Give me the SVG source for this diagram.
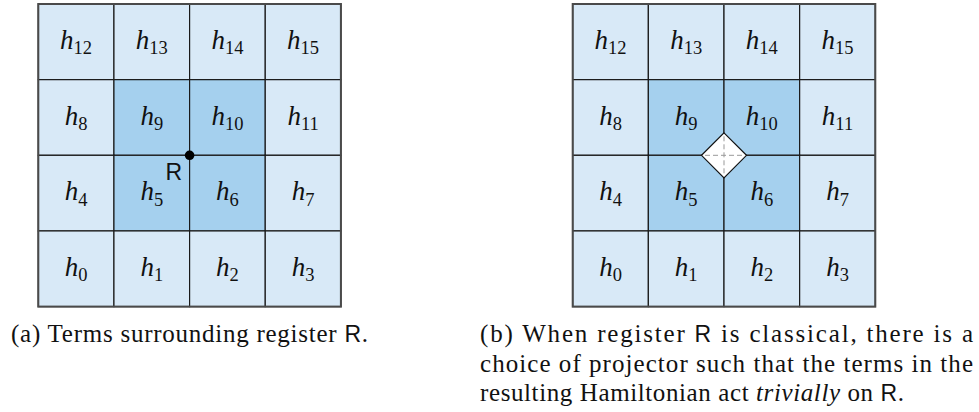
<svg xmlns="http://www.w3.org/2000/svg" width="979" height="412" viewBox="0 0 979 412">
<style>
.lt{fill:#D8E9F7;stroke:#1a1a1a;stroke-width:1.2}
.dk{fill:#A5D0EE;stroke:#1a1a1a;stroke-width:1.2}
.border{fill:none;stroke:#4a4a4a;stroke-width:2}
.h{font-family:"Liberation Serif",serif;font-size:27px;text-anchor:middle;fill:#111}
.h .i{font-style:italic}
.h .s{font-size:18.5px}
.cap{font-family:"Liberation Serif",serif;font-size:25px;fill:#111}
.sf{font-family:"Liberation Sans",sans-serif;font-size:23px}
.it{font-style:italic}
</style>
<g id="gridA">
<g id="a-h12"><rect class="lt" x="38.3" y="4" width="75.65" height="75.65"/><text class="h" x="76.1" y="48.8"><tspan class="i">h</tspan><tspan class="s" dy="5.5">12</tspan></text></g>
<g id="a-h13"><rect class="lt" x="113.95" y="4" width="75.65" height="75.65"/><text class="h" x="151.8" y="48.8"><tspan class="i">h</tspan><tspan class="s" dy="5.5">13</tspan></text></g>
<g id="a-h14"><rect class="lt" x="189.6" y="4" width="75.65" height="75.65"/><text class="h" x="227.4" y="48.8"><tspan class="i">h</tspan><tspan class="s" dy="5.5">14</tspan></text></g>
<g id="a-h15"><rect class="lt" x="265.25" y="4" width="75.65" height="75.65"/><text class="h" x="303.1" y="48.8"><tspan class="i">h</tspan><tspan class="s" dy="5.5">15</tspan></text></g>
<g id="a-h8"><rect class="lt" x="38.3" y="79.65" width="75.65" height="75.65"/><text class="h" x="76.1" y="124.5"><tspan class="i">h</tspan><tspan class="s" dy="5.5">8</tspan></text></g>
<g id="a-h9"><rect class="dk" x="113.95" y="79.65" width="75.65" height="75.65"/><text class="h" x="151.8" y="124.5"><tspan class="i">h</tspan><tspan class="s" dy="5.5">9</tspan></text></g>
<g id="a-h10"><rect class="dk" x="189.6" y="79.65" width="75.65" height="75.65"/><text class="h" x="227.4" y="124.5"><tspan class="i">h</tspan><tspan class="s" dy="5.5">10</tspan></text></g>
<g id="a-h11"><rect class="lt" x="265.25" y="79.65" width="75.65" height="75.65"/><text class="h" x="303.1" y="124.5"><tspan class="i">h</tspan><tspan class="s" dy="5.5">11</tspan></text></g>
<g id="a-h4"><rect class="lt" x="38.3" y="155.3" width="75.65" height="75.65"/><text class="h" x="76.1" y="200.1"><tspan class="i">h</tspan><tspan class="s" dy="5.5">4</tspan></text></g>
<g id="a-h5"><rect class="dk" x="113.95" y="155.3" width="75.65" height="75.65"/><text class="h" x="151.8" y="200.1"><tspan class="i">h</tspan><tspan class="s" dy="5.5">5</tspan></text></g>
<g id="a-h6"><rect class="dk" x="189.6" y="155.3" width="75.65" height="75.65"/><text class="h" x="227.4" y="200.1"><tspan class="i">h</tspan><tspan class="s" dy="5.5">6</tspan></text></g>
<g id="a-h7"><rect class="lt" x="265.25" y="155.3" width="75.65" height="75.65"/><text class="h" x="303.1" y="200.1"><tspan class="i">h</tspan><tspan class="s" dy="5.5">7</tspan></text></g>
<g id="a-h0"><rect class="lt" x="38.3" y="230.95" width="75.65" height="75.65"/><text class="h" x="76.1" y="275.8"><tspan class="i">h</tspan><tspan class="s" dy="5.5">0</tspan></text></g>
<g id="a-h1"><rect class="lt" x="113.95" y="230.95" width="75.65" height="75.65"/><text class="h" x="151.8" y="275.8"><tspan class="i">h</tspan><tspan class="s" dy="5.5">1</tspan></text></g>
<g id="a-h2"><rect class="lt" x="189.6" y="230.95" width="75.65" height="75.65"/><text class="h" x="227.4" y="275.8"><tspan class="i">h</tspan><tspan class="s" dy="5.5">2</tspan></text></g>
<g id="a-h3"><rect class="lt" x="265.25" y="230.95" width="75.65" height="75.65"/><text class="h" x="303.1" y="275.8"><tspan class="i">h</tspan><tspan class="s" dy="5.5">3</tspan></text></g>
<rect class="border" x="38.3" y="4" width="302.6" height="302.6"/>
</g>
<g id="registerA">
<circle cx="189.6" cy="155.3" r="4.8" fill="#000"/>
<text class="sf" x="182" y="180" text-anchor="end" fill="#111">R</text>
</g>
<g id="gridB">
<g id="b-h12"><rect class="lt" x="572.7" y="4" width="75.65" height="75.65"/><text class="h" x="610.5" y="48.8"><tspan class="i">h</tspan><tspan class="s" dy="5.5">12</tspan></text></g>
<g id="b-h13"><rect class="lt" x="648.35" y="4" width="75.65" height="75.65"/><text class="h" x="686.2" y="48.8"><tspan class="i">h</tspan><tspan class="s" dy="5.5">13</tspan></text></g>
<g id="b-h14"><rect class="lt" x="724" y="4" width="75.65" height="75.65"/><text class="h" x="761.8" y="48.8"><tspan class="i">h</tspan><tspan class="s" dy="5.5">14</tspan></text></g>
<g id="b-h15"><rect class="lt" x="799.65" y="4" width="75.65" height="75.65"/><text class="h" x="837.5" y="48.8"><tspan class="i">h</tspan><tspan class="s" dy="5.5">15</tspan></text></g>
<g id="b-h8"><rect class="lt" x="572.7" y="79.65" width="75.65" height="75.65"/><text class="h" x="610.5" y="124.5"><tspan class="i">h</tspan><tspan class="s" dy="5.5">8</tspan></text></g>
<g id="b-h9"><rect class="dk" x="648.35" y="79.65" width="75.65" height="75.65"/><text class="h" x="686.2" y="124.5"><tspan class="i">h</tspan><tspan class="s" dy="5.5">9</tspan></text></g>
<g id="b-h10"><rect class="dk" x="724" y="79.65" width="75.65" height="75.65"/><text class="h" x="761.8" y="124.5"><tspan class="i">h</tspan><tspan class="s" dy="5.5">10</tspan></text></g>
<g id="b-h11"><rect class="lt" x="799.65" y="79.65" width="75.65" height="75.65"/><text class="h" x="837.5" y="124.5"><tspan class="i">h</tspan><tspan class="s" dy="5.5">11</tspan></text></g>
<g id="b-h4"><rect class="lt" x="572.7" y="155.3" width="75.65" height="75.65"/><text class="h" x="610.5" y="200.1"><tspan class="i">h</tspan><tspan class="s" dy="5.5">4</tspan></text></g>
<g id="b-h5"><rect class="dk" x="648.35" y="155.3" width="75.65" height="75.65"/><text class="h" x="686.2" y="200.1"><tspan class="i">h</tspan><tspan class="s" dy="5.5">5</tspan></text></g>
<g id="b-h6"><rect class="dk" x="724" y="155.3" width="75.65" height="75.65"/><text class="h" x="761.8" y="200.1"><tspan class="i">h</tspan><tspan class="s" dy="5.5">6</tspan></text></g>
<g id="b-h7"><rect class="lt" x="799.65" y="155.3" width="75.65" height="75.65"/><text class="h" x="837.5" y="200.1"><tspan class="i">h</tspan><tspan class="s" dy="5.5">7</tspan></text></g>
<g id="b-h0"><rect class="lt" x="572.7" y="230.95" width="75.65" height="75.65"/><text class="h" x="610.5" y="275.8"><tspan class="i">h</tspan><tspan class="s" dy="5.5">0</tspan></text></g>
<g id="b-h1"><rect class="lt" x="648.35" y="230.95" width="75.65" height="75.65"/><text class="h" x="686.2" y="275.8"><tspan class="i">h</tspan><tspan class="s" dy="5.5">1</tspan></text></g>
<g id="b-h2"><rect class="lt" x="724" y="230.95" width="75.65" height="75.65"/><text class="h" x="761.8" y="275.8"><tspan class="i">h</tspan><tspan class="s" dy="5.5">2</tspan></text></g>
<g id="b-h3"><rect class="lt" x="799.65" y="230.95" width="75.65" height="75.65"/><text class="h" x="837.5" y="275.8"><tspan class="i">h</tspan><tspan class="s" dy="5.5">3</tspan></text></g>
<rect class="border" x="572.7" y="4" width="302.6" height="302.6"/>
</g>
<g id="registerB">
<polygon points="724,132.8 746.5,155.3 724,177.8 701.5,155.3" fill="#fff" stroke="#111" stroke-width="1.2"/>
<line x1="705" y1="155.3" x2="743" y2="155.3" stroke="#999" stroke-width="1" stroke-dasharray="5,3"/>
<line x1="724" y1="136.3" x2="724" y2="174.3" stroke="#999" stroke-width="1" stroke-dasharray="5,3"/>
</g>
<g id="connectors"/>
<g id="captions">
<text class="cap" x="11" y="342" textLength="357" lengthAdjust="spacing">(a) Terms surrounding register <tspan class="sf" font-size="24">R</tspan>.</text>
<text class="cap" x="480" y="342" textLength="493" lengthAdjust="spacing">(b) When register <tspan class="sf" font-size="24">R</tspan> is classical, there is a</text>
<text class="cap" x="480" y="371.5" textLength="493" lengthAdjust="spacing">choice of projector such that the terms in the</text>
<text class="cap" x="480" y="400.5" textLength="424" lengthAdjust="spacing">resulting Hamiltonian act <tspan class="it">trivially</tspan> on <tspan class="sf" font-size="24">R</tspan>.</text>
</g>
</svg>
